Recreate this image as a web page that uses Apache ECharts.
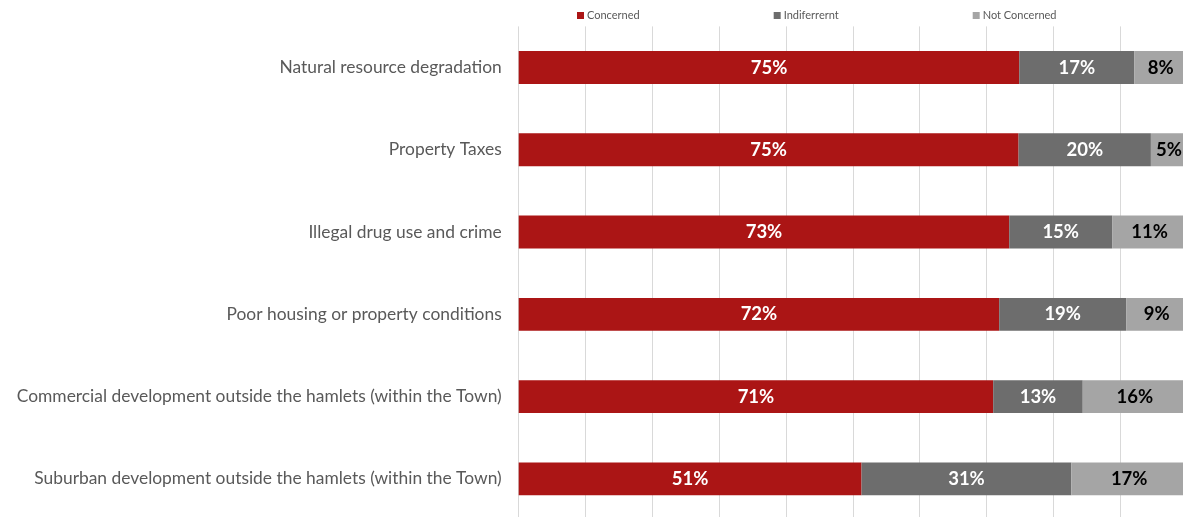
<!DOCTYPE html>
<html><head><meta charset="utf-8">
<script src="https://cdn.jsdelivr.net/npm/echarts@6/dist/echarts.min.js"></script>
<style>html,body{margin:0;padding:0;background:#fff;overflow:hidden}#c{width:1187px;height:520px}</style>
</head><body><div id="c"></div>
<script>
const categories = [
  "Natural resource degradation",
  "Property Taxes",
  "Illegal drug use and crime",
  "Poor housing or property conditions",
  "Commercial development outside the hamlets (within the Town)",
  "Suburban development outside the hamlets (within the Town)"
];
const seriesNames = ["Concerned", "Indiferrernt", "Not Concerned"];
const concerned    = [74.9, 74.8, 73.4, 71.9, 71.0, 51.3];
const indifferent  = [17.2, 19.8, 15.4, 19.0, 13.4, 31.4];
const notConcerned = [7.9, 5.4, 11.2, 9.1, 15.6, 17.3];
const colors = ["#AB1515", "#6D6D6D", "#A5A5A5"];
const labelColors = ["#ffffff", "#ffffff", "#000000"];
const values = [concerned, indifferent, notConcerned];

const chart = echarts.init(document.getElementById('c'), null, {renderer: 'canvas'});
chart.setOption({
  animation: false,
  textStyle: {fontFamily: 'Lato'},
  legend: {
    top: 10, left: 577, padding: 0, itemGap: 134, itemWidth: 7, itemHeight: 7, icon: 'rect',
    textStyle: {fontSize: 11, color: '#595959', fontFamily: 'Lato', padding: [0,0,0,-2]},
    data: seriesNames
  },
  grid: {left: 518.7, right: 0, top: 26.4, bottom: 0, containLabel: false},
  xAxis: {
    type: 'value', min: 0, max: 100, interval: 10,
    axisLabel: {show: false}, axisTick: {show: false}, axisLine: {show: false},
    splitLine: {show: true, lineStyle: {color: '#D9D9D9', width: 1}}
  },
  yAxis: {
    type: 'category', data: categories, inverse: true,
    axisLine: {show: false}, axisTick: {show: false},
    axisLabel: {fontSize: 17.4, color: '#595959', margin: 17, fontFamily: 'Lato'}
  },
  series: values.map((v, i) => ({
    name: seriesNames[i], type: 'bar', stack: 'all', data: v, barWidth: '40%',
    itemStyle: {color: colors[i]},
    label: {
      show: true, position: 'inside', color: labelColors[i], fontWeight: 'bold',
      fontSize: 18.5, fontFamily: 'Lato',
      formatter: p => Math.round(p.value) + '%'
    }
  }))
});
</script></body></html>
